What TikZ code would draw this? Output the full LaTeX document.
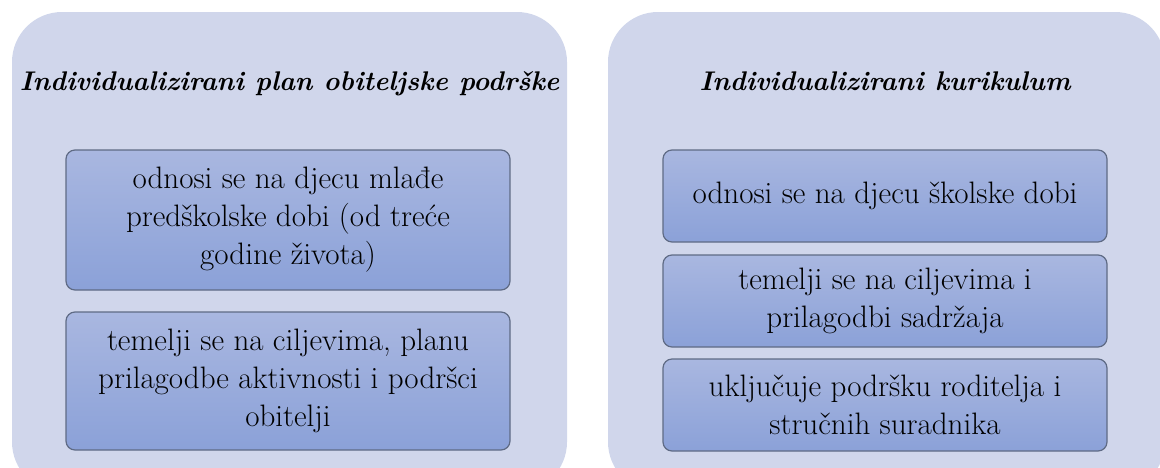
\documentclass[tikz,border=0pt]{standalone}
\definecolor{fond}{HTML}{D0D6EB}
\definecolor{haut}{HTML}{A9B7E0}
\definecolor{bas}{HTML}{8BA1D8}
\definecolor{bord}{HTML}{5F6B85}
\tikzset{
  panneau/.style={fill=fond, rounded corners=50pt},
  boite/.style={draw=bord, line width=1.2pt, rounded corners=9pt, top color=haut, bottom color=bas,
    align=center, inner sep=0pt, minimum width=444pt, font=\fontsize{31}{38}\selectfont},
  titre/.style={anchor=base, font=\fontsize{27}{34}\selectfont\bfseries\itshape}
}
\begin{document}
\begin{tikzpicture}[x=1pt, y=-1pt]
  \useasboundingbox (0,0) rectangle (1160,467);

  % dessiner les deux panneaux
  \fill[panneau] (12,12) rectangle (567,492);
  \fill[panneau] (608,12) rectangle (1165,492);

  % dessiner les titres
  \node[titre] (tg) at (289.5,90) {Individualizirani plan obiteljske podrške};
  \node[titre] (td) at (885,90) {Individualizirani kurikulum};

  % dessiner les boites du panneau gauche
  \node[boite, minimum height=140pt] (g1) at (288,220) {odnosi se na djecu mlađe\\predškolske dobi (od treće\\godine života)};
  \node[boite, minimum height=138pt] (g2) at (288,381) {temelji se na ciljevima, planu\\prilagodbe aktivnosti i podršci\\obitelji};

  % dessiner les boites du panneau droit
  \node[boite, minimum height=92pt] (d1) at (885,196) {odnosi se na djecu školske dobi};
  \node[boite, minimum height=92pt] (d2) at (885,301) {temelji se na ciljevima i\\prilagodbi sadržaja};
  \node[boite, minimum height=92pt] (d3) at (885,405) {uključuje podršku roditelja i\\stručnih suradnika};
\end{tikzpicture}
\end{document}
